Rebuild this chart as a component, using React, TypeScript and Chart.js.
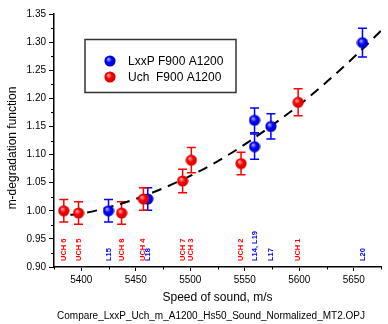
import React, { useEffect, useRef } from "react";
import { Chart, registerables } from "chart.js";

Chart.register(...registerables);

// ---- data ----
const uchX = [5384, 5397.5, 5437, 5457, 5493, 5501, 5546.6, 5599];
const uchY = [1.0, 0.996, 0.996, 1.021, 1.053, 1.09, 1.084, 1.193];
const uchErr = [0.02, 0.02, 0.02, 0.02, 0.021, 0.0225, 0.02, 0.024];
const uchNames = ["UCH 6", "UCH 5", "UCH 8", "UCH 4", "UCH 7", "UCH 3", "UCH 2", "UCH 1"];

const lxxX = [5425, 5461, 5559, 5559, 5574, 5658];
const lxxY = [1.0, 1.021, 1.114, 1.161, 1.15, 1.299];
const lxxErr = [0.02, 0.02, 0.0225, 0.022, 0.0225, 0.0255];
const lxxLabelX = [5425, 5461, 5559, 5574, 5658];
const lxxLabelText = ["L15", "L18", "L14, L19", "L17", "L20"];

const fitX = [5390, 5400, 5425, 5450, 5475, 5500, 5525, 5550, 5575, 5600, 5625, 5650, 5675];
const fitY = [0.993, 0.995, 1.006, 1.021, 1.04, 1.062, 1.088, 1.118, 1.152, 1.188, 1.229, 1.273, 1.32];

const xTicks = [5400, 5450, 5500, 5550, 5600, 5650];
const xMinor = [5375, 5425, 5475, 5525, 5575, 5625, 5675];
const yMinor = [0.925, 0.975, 1.025, 1.075, 1.125, 1.175, 1.225, 1.275, 1.325];

const legendNames = ["LxxP F900 A1200", "Uch  F900 A1200"];
const xTitle = "Speed of sound, m/s";
const yTitle = "m-degradation function";
const footer = "Compare_LxxP_Uch_m_A1200_Hs50_Sound_Normalized_MT2.OPJ";

const RED = "#ff0000";
const BLUE = "#0000ff";
const FONT = "'Liberation Sans', Arial, sans-serif";

function makeBall(light: string, mid: string, dark: string) {
  const c = document.createElement("canvas");
  c.width = 12;
  c.height = 12;
  const g = c.getContext("2d")!;
  const grad = g.createRadialGradient(4.3, 4, 0.3, 6, 6, 6);
  grad.addColorStop(0, light);
  grad.addColorStop(0.45, mid);
  grad.addColorStop(1, dark);
  g.fillStyle = grad;
  g.beginPath();
  g.arc(6, 6, 5.6, 0, Math.PI * 2);
  g.fill();
  return c;
}

export default function App() {
  const ref = useRef<HTMLCanvasElement | null>(null);

  useEffect(() => {
    const redBall = makeBall("#ffb0b0", "#ff0000", "#c80000");
    const blueBall = makeBall("#b0b0ff", "#0000ff", "#0000b8");

    const overlay = {
      id: "overlay",
      beforeDatasetsDraw(chart: any) {
        const ctx = chart.ctx;
        const xs = chart.scales.x;
        const ys = chart.scales.y;
        const draw = (X: number[], Y: number[], E: number[], col: string) => {
          ctx.save();
          ctx.strokeStyle = col;
          ctx.lineWidth = 1.5;
          for (let i = 0; i < X.length; i++) {
            const px = xs.getPixelForValue(X[i]);
            const top = ys.getPixelForValue(Y[i] + E[i]);
            const bot = ys.getPixelForValue(Y[i] - E[i]);
            ctx.beginPath();
            ctx.moveTo(px, top);
            ctx.lineTo(px, bot);
            ctx.moveTo(px - 4.5, top);
            ctx.lineTo(px + 4.5, top);
            ctx.moveTo(px - 4.5, bot);
            ctx.lineTo(px + 4.5, bot);
            ctx.stroke();
          }
          ctx.restore();
        };
        draw(lxxX, lxxY, lxxErr, BLUE);
        draw(uchX, uchY, uchErr, RED);
      },
      afterDraw(chart: any) {
        const ctx = chart.ctx;
        const xs = chart.scales.x;
        const ys = chart.scales.y;
        const area = chart.chartArea;
        ctx.save();
        // minor ticks
        ctx.strokeStyle = "#000";
        ctx.lineWidth = 1;
        ctx.beginPath();
        for (const v of xMinor) {
          const px = Math.round(xs.getPixelForValue(v)) + 0.5;
          ctx.moveTo(px, area.bottom);
          ctx.lineTo(px, area.bottom + 2.5);
        }
        for (const v of yMinor) {
          const py = Math.round(ys.getPixelForValue(v)) + 0.5;
          ctx.moveTo(area.left, py);
          ctx.lineTo(area.left - 3, py);
        }
        ctx.stroke();

        // vertical sample labels
        ctx.font = `bold 7.5px ${FONT}`;
        ctx.textAlign = "left";
        ctx.textBaseline = "middle";
        const vlab = (x: number, t: string, col: string) => {
          ctx.save();
          ctx.translate(xs.getPixelForValue(x), area.bottom - 6);
          ctx.rotate(-Math.PI / 2);
          ctx.fillStyle = col;
          ctx.fillText(t, 0, 0);
          ctx.restore();
        };
        uchX.forEach((x, i) => vlab(x, uchNames[i], RED));
        lxxLabelX.forEach((x, i) => vlab(x, lxxLabelText[i], BLUE));

        // legend
        ctx.strokeStyle = "#333";
        ctx.lineWidth = 1.5;
        ctx.strokeRect(85, 39.5, 151, 53);
        ctx.drawImage(blueBall, 110 - 6, 61 - 6);
        ctx.drawImage(redBall, 110 - 6, 77 - 6);
        ctx.fillStyle = "#000";
        ctx.font = `12px ${FONT}`;
        ctx.textAlign = "left";
        ctx.textBaseline = "middle";
        ctx.fillText(legendNames[0], 128, 61.5);
        ctx.fillText(legendNames[1], 128, 77.5);

        // axis titles
        ctx.textAlign = "center";
        ctx.fillText(xTitle, (area.left + area.right) / 2, 298);
        ctx.save();
        ctx.translate(13, 148);
        ctx.rotate(-Math.PI / 2);
        ctx.fillText(yTitle, 0, 0);
        ctx.restore();

        // footer
        ctx.font = `10px ${FONT}`;
        ctx.fillText(footer, 211, 316);
        ctx.restore();
      },
    };

    const chart = new Chart(ref.current!, {
      type: "scatter",
      data: {
        datasets: [
          {
            label: "Uch",
            data: uchX.map((x, i) => ({ x, y: uchY[i] })),
            pointStyle: redBall as any,
            pointRadius: 6,
            showLine: false,
          },
          {
            label: "LxxP",
            data: lxxX.map((x, i) => ({ x, y: lxxY[i] })),
            pointStyle: blueBall as any,
            pointRadius: 6,
            showLine: false,
          },
          {
            type: "line",
            label: "fit",
            data: fitX.map((x, i) => ({ x, y: fitY[i] })),
            borderColor: "#000",
            borderWidth: 2,
            borderDash: [10, 7],
            pointRadius: 0,
            cubicInterpolationMode: "monotone",
            fill: false,
          } as any,
        ],
      },
      options: {
        responsive: false,
        animation: false,
        layout: { padding: { top: 14, left: 0, right: 0, bottom: 0 } },
        plugins: { legend: { display: false }, tooltip: { enabled: false } },
        scales: {
          x: {
            type: "linear",
            min: 5375,
            max: 5675,
            afterFit: (s: any) => {
              s.height = 57;
            },
            afterBuildTicks: (s: any) => {
              s.ticks = xTicks.map((v) => ({ value: v }));
            },
            grid: { drawOnChartArea: false, drawTicks: true, tickLength: 4, color: "#000", lineWidth: 1 },
            border: { display: true, color: "#000", width: 1.5 },
            ticks: { color: "#000", font: { size: 10, family: FONT }, padding: 3, maxRotation: 0, callback: (v: any) => String(v) },
          },
          y: {
            type: "linear",
            min: 0.9,
            max: 1.35,
            afterFit: (s: any) => {
              s.width = 54;
            },
            grid: { drawOnChartArea: false, drawTicks: true, tickLength: 5, color: "#000", lineWidth: 1 },
            border: { display: true, color: "#000", width: 1.5 },
            ticks: { color: "#000", stepSize: 0.05, font: { size: 10, family: FONT }, padding: 3, callback: (v: any) => Number(v).toFixed(2) },
          },
        },
      },
      plugins: [overlay],
    });
    return () => chart.destroy();
  }, []);

  return (
    <div style={{ position: "fixed", left: 0, top: 0, width: 388, height: 324, background: "#fff" }}>
      <canvas ref={ref} width={388} height={324} style={{ display: "block" }} />
    </div>
  );
}
